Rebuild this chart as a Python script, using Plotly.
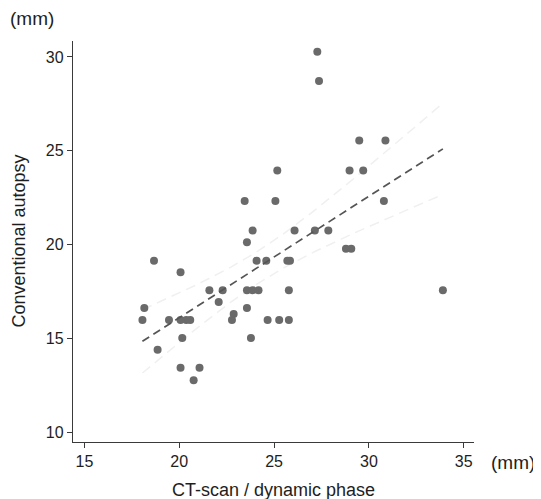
import numpy as np
import plotly.graph_objects as go

# CT-scan / dynamic phase (mm)
ct_scan = [27.28, 27.37, 29.49, 30.87, 25.17, 28.98, 29.70, 23.45, 25.07, 30.79,
           23.87, 26.08, 27.15, 27.86, 23.57, 28.79, 29.07, 18.67, 24.08, 24.59,
           25.70, 25.84, 20.07, 21.59, 22.29, 23.57, 23.87, 24.18, 25.78, 33.90,
           22.08, 18.16, 23.57, 22.87, 18.06, 19.46, 20.07, 20.37, 20.58, 22.78,
           24.66, 25.27, 25.78, 20.16, 23.78, 18.86, 20.07, 21.07, 20.76]
# Conventional autopsy (mm)
autopsy = [30.28, 28.72, 25.54, 25.54, 23.94, 23.94, 23.94, 22.32, 22.32, 22.32,
           20.74, 20.74, 20.74, 20.74, 20.12, 19.78, 19.78, 19.14, 19.14, 19.14,
           19.14, 19.14, 18.52, 17.56, 17.56, 17.56, 17.56, 17.56, 17.56, 17.56,
           16.93, 16.61, 16.61, 16.29, 15.97, 15.97, 15.97, 15.97, 15.97, 15.97,
           15.97, 15.97, 15.97, 15.01, 15.01, 14.39, 13.43, 13.43, 12.76]

x_ticks = [15, 20, 25, 30, 35]
y_ticks = [10, 15, 20, 25, 30]

T_CRIT = 2.012  # t(0.975, df=47)

x = np.array(ct_scan)
y = np.array(autopsy)
n = len(x)
xm, ym = x.mean(), y.mean()
sxx = ((x - xm) ** 2).sum()
slope = ((x - xm) * (y - ym)).sum() / sxx
intercept = ym - slope * xm
resid = y - (intercept + slope * x)
s = np.sqrt((resid ** 2).sum() / (n - 2))

xf = np.linspace(x.min(), x.max(), 100)
yf = intercept + slope * xf
half = T_CRIT * s * np.sqrt(1.0 / n + (xf - xm) ** 2 / sxx)

font_family = "Liberation Sans, Arial, Helvetica, sans-serif"
txt = "#1e1e1e"

fig = go.Figure()
for band in (yf + half, yf - half):
    fig.add_trace(go.Scatter(x=xf, y=band, mode="lines",
                             line=dict(color="#f0f0f0", width=1.5, dash="10px,6px"),
                             hoverinfo="skip", showlegend=False))
fig.add_trace(go.Scatter(x=ct_scan, y=autopsy, mode="markers",
                         marker=dict(color="#6a6a6a", size=8, line=dict(width=0)),
                         showlegend=False))
fig.add_trace(go.Scatter(x=xf, y=yf, mode="lines",
                         line=dict(color="#555555", width=1.7, dash="8px,5px"),
                         hoverinfo="skip", showlegend=False))

axis_common = dict(showgrid=False, zeroline=False, showline=True,
                   linecolor="#3a3a3a", linewidth=1.3, ticks="outside",
                   ticklen=5, tickwidth=1.2, tickcolor="#3a3a3a",
                   tickfont=dict(family=font_family, size=16, color=txt))

# page body has an 8px default margin, so the figure is sized to fit the window
fig.update_layout(
    width=533, height=491,
    margin=dict(l=65, r=67, t=33, b=57),
    plot_bgcolor="white", paper_bgcolor="white",
    xaxis=dict(range=[14.4, 35.54], tickvals=x_ticks, **axis_common),
    yaxis=dict(range=[9.47, 30.85], tickvals=y_ticks, **axis_common),
    annotations=[
        dict(text="CT-scan / dynamic phase", xref="paper", yref="paper",
             x=0.5, y=0, xanchor="center", yanchor="middle", yshift=-48,
             showarrow=False, font=dict(family=font_family, size=18, color=txt)),
        dict(text="Conventional autopsy", xref="paper", yref="paper",
             x=0, y=0.5, xanchor="center", yanchor="middle", xshift=-55,
             textangle=-90, showarrow=False,
             font=dict(family=font_family, size=18, color=txt)),
        dict(text="(mm)", xref="paper", yref="paper",
             x=0, y=1, xanchor="center", yanchor="middle", xshift=-41, yshift=23,
             showarrow=False, font=dict(family=font_family, size=19, color=txt)),
        dict(text="(mm)", xref="paper", yref="paper",
             x=1, y=0, xanchor="left", yanchor="middle", xshift=15, yshift=-20,
             showarrow=False, font=dict(family=font_family, size=19, color=txt)),
    ],
)

fig.write_html("out.html")
